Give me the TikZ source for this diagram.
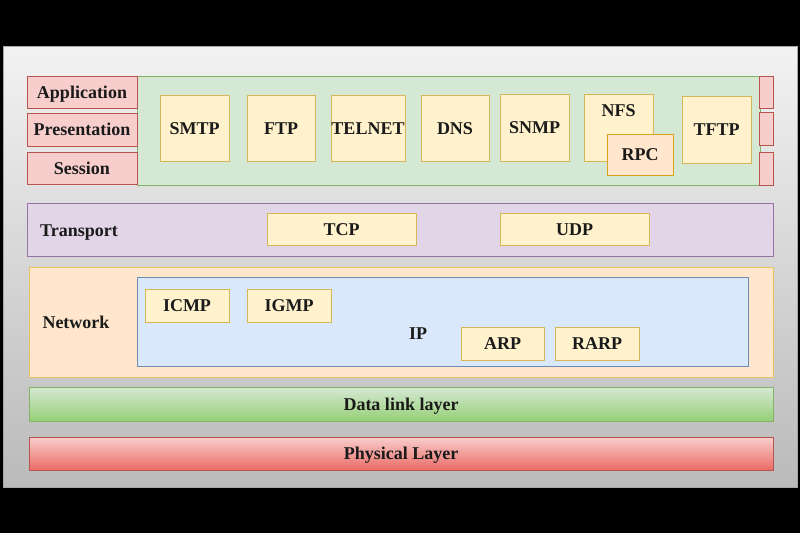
\documentclass[tikz,border=0pt]{standalone}
\usepackage{fontspec}
\setmainfont{Liberation Serif}
\usetikzlibrary{positioning}
\definecolor{pinkfill}{HTML}{F8CECC}
\definecolor{pinkline}{HTML}{B85450}
\definecolor{pinkdeep}{HTML}{EA6B66}
\definecolor{greenfill}{HTML}{D5E8D4}
\definecolor{greenline}{HTML}{82B366}
\definecolor{greendeep}{HTML}{97D077}
\definecolor{yellowfill}{HTML}{FFF2CC}
\definecolor{yellowline}{HTML}{D6B656}
\definecolor{purplefill}{HTML}{E1D5E7}
\definecolor{purpleline}{HTML}{9673A6}
\definecolor{orangefill}{HTML}{FFE6CC}
\definecolor{orangeline}{HTML}{D79B00}
\definecolor{bluefill}{HTML}{DAE8FC}
\definecolor{blueline}{HTML}{6C8EBF}
\definecolor{textcolor}{HTML}{1A1A1A}

\begin{document}
\begin{tikzpicture}[
    x=1pt, y=-1pt,
    box/.style={
        rectangle, draw, inner sep=0pt, line width=0.8pt,
        text height=12pt, text depth=0pt,
        font=\fontsize{18}{20}\selectfont\bfseries, text=textcolor
    },
    osi/.style={box, draw=pinkline, fill=pinkfill, minimum width=110pt},
    proto/.style={box, draw=yellowline, fill=yellowfill},
    lbl/.style={inner sep=0pt, text height=12pt, text depth=0pt,
        font=\fontsize{18}{20}\selectfont\bfseries, text=textcolor}
]

% Frame
\useasboundingbox (0,0) rectangle (800,533);
\fill[black] (0,0) rectangle (800,533);
\shade[top color=white!95!black, bottom color=white!73!black, draw=white!65!black]
    (3,46) rectangle (797,487);

% Application group
\node[box, draw=greenline, fill=greenfill, minimum width=623pt, minimum height=109pt] (appzone) at (448.5,130.5) {};
\node[osi, minimum height=32pt] (application) at (82,92) {Application};
\node[osi, minimum height=33pt] (presentation) at (82,129.5) {Presentation};
\node[osi, minimum height=32pt] (session) at (82,168) {Session};
\node[box, draw=pinkline, fill=pinkfill, minimum width=14pt, minimum height=32pt] (appedge) at (766,92) {};
\node[box, draw=pinkline, fill=pinkfill, minimum width=14pt, minimum height=33pt] (presedge) at (766,128.5) {};
\node[box, draw=pinkline, fill=pinkfill, minimum width=14pt, minimum height=33pt] (sessedge) at (766,168.5) {};

% Application protocols
\node[proto, minimum width=69pt, minimum height=66pt] (smtp) at (194.5,128) {SMTP};
\node[proto, minimum width=68pt, minimum height=66pt] (ftp) at (281,128) {FTP};
\node[proto, minimum width=74pt, minimum height=66pt] (telnet) at (368,128) {TELNET};
\node[proto, minimum width=68pt, minimum height=66pt] (dns) at (455,128) {DNS};
\node[proto, minimum width=69pt, minimum height=67pt] (snmp) at (534.5,127.5) {SNMP};
\node[proto, minimum width=69pt, minimum height=67pt,
      label={[lbl, anchor=north, yshift=-10.5pt]north:NFS}] (nfs) at (618.5,127.5) {};
\node[proto, draw=orangeline!70!yellowline, fill=orangefill, minimum width=66pt, minimum height=41pt] (rpc) at (640,154.5) {RPC};
\node[proto, minimum width=69pt, minimum height=67pt] (tftp) at (716.5,129.5) {TFTP};

% Transport
\node[box, draw=purpleline, fill=purplefill, minimum width=746pt, minimum height=53pt] (transport) at (400,229.5) {};
\node[lbl] (transportlbl) at (79,230) {Transport};
\node[proto, minimum width=149pt, minimum height=32pt] (tcp) at (341.5,229) {TCP};
\node[proto, minimum width=149pt, minimum height=32pt] (udp) at (574.5,229) {UDP};

% Network
\node[box, draw=orangeline!60, fill=orangefill, minimum width=744pt, minimum height=110pt] (network) at (401,322) {};
\node[lbl] (networklbl) at (76,322) {Network};
\node[box, draw=blueline!80!gray, fill=bluefill, minimum width=611pt, minimum height=89pt] (ip) at (442.5,321.5) {};
\node[lbl] (iplbl) at (418,333) {IP};
\node[proto, minimum width=84pt, minimum height=33pt] (icmp) at (187,305.5) {ICMP};
\node[proto, minimum width=84pt, minimum height=33pt] (igmp) at (289,305.5) {IGMP};
\node[proto, minimum width=83pt, minimum height=33pt] (arp) at (502.5,343.5) {ARP};
\node[proto, minimum width=84pt, minimum height=33pt] (rarp) at (597,343.5) {RARP};

% Lower layers
\node[box, draw=greenline, top color=greenfill, bottom color=greendeep, minimum width=744pt, minimum height=34pt] (datalink) at (401,404) {Data link layer};
\node[box, draw=pinkline, top color=pinkfill, bottom color=pinkdeep, minimum width=744pt, minimum height=33pt] (physical) at (401,453.5) {Physical Layer};

\end{tikzpicture}
\end{document}
